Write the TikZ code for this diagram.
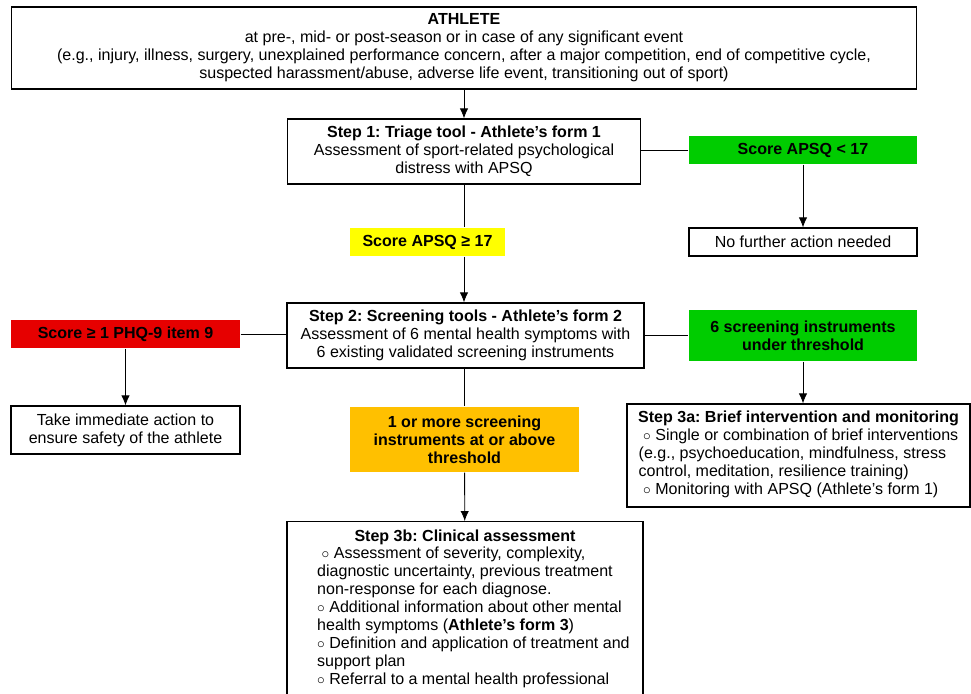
\documentclass[tikz,border=0pt]{standalone}
\usepackage{fontspec}
\setmainfont{Liberation Sans}
\usetikzlibrary{arrows.meta}
\definecolor{scoregreen}{RGB}{0,204,0}
\definecolor{scoreyellow}{RGB}{255,255,0}
\definecolor{scorered}{RGB}{230,0,0}
\definecolor{scoreorange}{RGB}{255,192,0}
\newcommand{\bul}{$\circ$}
\frenchspacing

\begin{document}
\begin{tikzpicture}[x=0.025cm, y=-0.025cm, >={Latex[length=2.5mm,width=2.1mm]}, line width=0.8pt,
  font=\fontsize{11.4}{12.8}\selectfont,
  box/.style={draw, fill=white, align=center, inner sep=1pt},
  flag/.style={align=center, inner sep=1pt, font=\fontsize{11.4}{12.8}\selectfont\bfseries},
  link/.style={line width=0.6pt}]
  \useasboundingbox (0,0) rectangle (971,693);
  \node [box, minimum width=22.6cm, minimum height=2.05cm] (1) at (464,48)
    {\textbf{ATHLETE}\\
     at pre-, mid- or post-season or in case of any significant event\\
     (e.g., injury, illness, surgery, unexplained performance concern, after a major competition, end of competitive cycle,\\
     suspected harassment/abuse, adverse life event, transitioning out of sport)};
  \node [box, minimum width=8.825cm, minimum height=1.625cm] (2) at (464,151.5)
    {\textbf{Step 1: Triage tool - Athlete's form 1}\\
     Assessment of sport-related psychological\\
     distress with APSQ};
  \node [flag, fill=scoregreen, minimum width=5.7cm, minimum height=0.7cm] (3) at (803,150)
    {Score APSQ < 17};
  \node [box, minimum width=5.7cm, minimum height=0.7cm] (4) at (803,242)
    {No further action needed};
  \node [flag, fill=scoreyellow, minimum width=3.875cm, minimum height=0.7cm] (5) at (427.5,242)
    {Score APSQ ≥ 17};
  \node [box, minimum width=8.925cm, minimum height=1.625cm] (6) at (465.5,335.5)
    {\textbf{Step 2: Screening tools - Athlete's form 2}\\
     Assessment of 6 mental health symptoms with\\
     6 existing validated screening instruments};
  \node [flag, fill=scorered, minimum width=5.725cm, minimum height=0.7cm] (7) at (125.5,334)
    {Score ≥ 1 PHQ-9 item 9};
  \node [box, minimum width=5.725cm, minimum height=1.2cm] (8) at (125.5,430)
    {Take immediate action to\\
     ensure safety of the athlete};
  \node [flag, fill=scoregreen, minimum width=5.7cm, minimum height=1.275cm] (9) at (803,335.5)
    {6 screening instruments\\
     under threshold};
  \node [box, minimum width=8.575cm, minimum height=2.575cm] (10) at (798.5,455.5)
    {\textbf{Step 3a: Brief intervention and monitoring}\\
     \begin{tabular}{@{}l@{}}
     \ \bul\ Single or combination of brief interventions\\
     (e.g., psychoeducation, mindfulness, stress\\
     control, meditation, resilience training)\\
     \ \bul\ Monitoring with APSQ (Athlete's form 1)
     \end{tabular}};
  \node [flag, fill=scoreorange, minimum width=5.725cm, minimum height=1.625cm] (11) at (464.5,439.5)
    {1 or more screening\\
     instruments at or above\\
     threshold};
  \node [box, anchor=north, minimum width=8.9cm, minimum height=4.4cm] (12) at (465,521)
    {\textbf{Step 3b: Clinical assessment}\\
     \hspace*{12pt}\begin{tabular}{@{}l@{}}
     \ \bul\ Assessment of severity, complexity,\\
     diagnostic uncertainty, previous treatment\\
     non-response for each diagnose.\\
     \bul\ Additional information about other mental\\
     health symptoms (\textbf{Athlete's form 3})\\
     \bul\ Definition and application of treatment and\\
     support plan\\
     \bul\ Referral to a mental health professional
     \end{tabular}};
  \draw [link, ->] (1.south -| 2.north) to (2.north);
  \draw [link] (3.west) to (3.west -| 2.east);
  \draw [link, ->] (3) to (4);
  \draw [link] (2.south) to (2.south |- 5.north);
  \draw [link, ->] (2.south |- 5.south) to (2.south |- 6.north);
  \draw [link] (7.east) to (7.east -| 6.west);
  \draw [link, ->] (7) to (8);
  \draw [link] (6.east |- 9.west) to (9.west);
  \draw [link, ->] (9) to (9 |- 10.north);
  \draw [link] (6.south -| 11.north) to (11.north);
  \draw [link, ->] (11) to (12);
\end{tikzpicture}
\end{document}
